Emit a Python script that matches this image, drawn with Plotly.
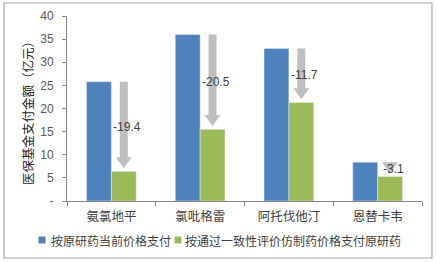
import plotly.graph_objects as go

categories = ["氨氯地平", "氯吡格雷", "阿托伐他汀", "恩替卡韦"]
original_price = [25.8, 36.0, 33.0, 8.4]
generic_price = [6.4, 15.5, 21.3, 5.3]
y_tickvals = [0, 5, 10, 15, 20, 25, 30, 35, 40]
y_ticktext = ["-", "5", "10", "15", "20", "25", "30", "35", "40"]
series_names = ["按原研药当前价格支付", "按通过一致性评价仿制药价格支付原研药"]
y_title = "医保基金支付金额（亿元）"

BLUE = "#4F81BD"
GREEN = "#9BBB59"
GRAY = "#BFBFBF"
TXT = "#404040"
FONT = "Liberation Sans, Noto Sans CJK SC, sans-serif"
CJK = "Noto Sans CJK SC, sans-serif"

W, H = 436, 262
ML, MR, MT, MB = 67, 14, 16, 61
PW = W - ML - MR
PH = H - MT - MB

bargap = 0.44
bw = (1 - bargap) / 2

fig = go.Figure()
fig.add_bar(x=list(range(len(categories))), y=original_price, name=series_names[0],
            marker_color=BLUE, showlegend=False)
fig.add_bar(x=list(range(len(categories))), y=generic_price, name=series_names[1],
            marker_color=GREEN, showlegend=False)

cat_px = PW / len(categories)
unit_px = PH / 40.0
sw = 4 / cat_px
hw = 8 / cat_px
head_h = 11 / unit_px
gap = 0.7
shapes = []
annotations = []
for i, (a, b) in enumerate(zip(original_price, generic_price)):
    xc = i + bw / 2
    top = a
    tip = b + gap
    base = min(top, tip + head_h)
    path = (f"M {xc-sw},{top} L {xc+sw},{top} L {xc+sw},{base} L {xc+hw},{base} "
            f"L {xc},{tip} L {xc-hw},{base} L {xc-sw},{base} Z")
    shapes.append(dict(type="path", path=path, xref="x", yref="y",
                       fillcolor=GRAY, line=dict(width=0), layer="above"))
    diff = round(b - a, 1)
    annotations.append(dict(x=xc, y=(a + b) / 2, xref="x", yref="y", text=f"{diff}",
                            showarrow=False, xshift=3, font=dict(size=12, color=TXT, family=FONT)))

def px_x(p):
    return (p - ML) / PW
def px_y(p):
    return (H - MB - p) / PH

shapes.append(dict(type="rect", xref="paper", yref="paper", x0=px_x(4), x1=px_x(432),
                   y0=px_y(258), y1=px_y(3), line=dict(color="#A6A6A6", width=1.2),
                   fillcolor="rgba(0,0,0,0)", layer="below"))

leg_y = 240
legend_items = [(42, 49, BLUE, series_names[0]), (178, 183, GREEN, series_names[1])]
for cx, tx, col, name in legend_items:
    shapes.append(dict(type="rect", xref="paper", yref="paper",
                       x0=px_x(cx - 3.5), x1=px_x(cx + 3.5), y0=px_y(leg_y + 3.5), y1=px_y(leg_y - 3.5),
                       fillcolor=col, line=dict(width=0)))
    annotations.append(dict(x=px_x(tx), y=px_y(leg_y), xref="paper", yref="paper", text=name,
                            showarrow=False, xanchor="left", yanchor="middle",
                            font=dict(size=12, color=TXT, family=CJK)))

annotations.append(dict(x=px_x(28), y=px_y(110), xref="paper", yref="paper", text=y_title,
                        showarrow=False, textangle=-90, xanchor="center", yanchor="middle",
                        font=dict(size=12.5, color="#262626", family=CJK)))

fig.update_layout(
    width=W, height=H,
    margin=dict(l=ML, r=MR, t=MT, b=MB, autoexpand=False),
    paper_bgcolor="white", plot_bgcolor="white",
    barmode="group", bargap=bargap, bargroupgap=0,
    shapes=shapes, annotations=annotations,
    showlegend=False,
)
fig.update_xaxes(
    tickmode="array", tickvals=list(range(len(categories))), ticktext=categories,
    range=[-0.5, len(categories) - 0.5],
    showline=True, linecolor="#868686", linewidth=1,
    ticks="", tickfont=dict(size=12.5, color=TXT, family=CJK),
    showgrid=False, zeroline=False, ticklabelstandoff=4,
    minor=dict(ticks="outside", ticklen=4, tickcolor="#868686",
               tickvals=[i + 0.5 for i in range(-1, len(categories))]),
)
fig.update_yaxes(
    range=[0, 40], tickmode="array", tickvals=y_tickvals,
    ticktext=[t + "\u2002" for t in y_ticktext],
    showline=True, linecolor="#868686", linewidth=1,
    ticks="outside", ticklen=4, tickcolor="#868686",
    tickfont=dict(size=12, color="#595959", family=FONT),
    showgrid=False, zeroline=False, showticklabels=True,
)

fig.write_html("out.html")
